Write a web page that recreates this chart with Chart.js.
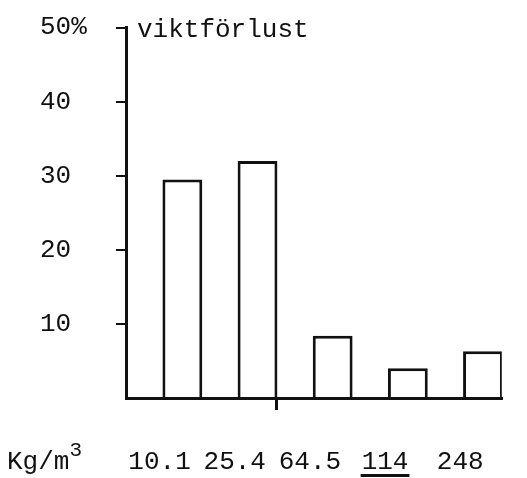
<!DOCTYPE html>
<html>
<head>
<meta charset="utf-8">
<script src="https://cdn.jsdelivr.net/npm/chart.js@4/dist/chart.umd.min.js"></script>
<style>
  html, body { margin: 0; padding: 0; background: #fff; }
  #wrap { width: 527px; height: 478px; }
</style>
</head>
<body>
<div id="wrap"><canvas id="grafico"></canvas></div>
<script>
// densitet (kg/m3) och viktförlust i procent
const densitet = ['10.1', '25.4', '64.5', '114', '248'];
const viktforlust = [29.5, 32, 8.4, 4.0, 6.3];
const yTicks = [0, 10, 20, 30, 40, 50];

const typsnitt = '"Liberation Mono", "DejaVu Sans Mono", monospace';
const svart = '#111';

// texter som ligger utanför axlarna
const extraText = {
    id: 'extraText',
    afterDraw(chart) {
        const ctx = chart.ctx;
        const x = chart.scales.x;
        const y = chart.scales.y;
        ctx.save();
        ctx.fillStyle = svart;
        ctx.font = '26px ' + typsnitt;
        ctx.textBaseline = 'middle';
        ctx.fillText('viktförlust', chart.chartArea.left + 11, y.getPixelForValue(50) + 3);

        // enhet till vänster om x-etiketterna
        const yl = x.bottom - 9;
        ctx.textBaseline = 'alphabetic';
        ctx.fillText('Kg/m', 7, yl);
        const w = ctx.measureText('Kg/m').width;
        ctx.font = '21px ' + typsnitt;
        ctx.fillText('3', 7 + w, yl - 13);

        // understrykning av 114
        ctx.font = '26px ' + typsnitt;
        const i = densitet.indexOf('114');
        const cx = x.getPixelForTick(i) + x.options.ticks.labelOffset;
        const tw = ctx.measureText(densitet[i]).width;
        ctx.fillRect(cx - tw / 2 - 1, yl + 5, tw + 2, 3);
        ctx.restore();
    }
};

document.addEventListener('DOMContentLoaded', function () {
    const ctx = document.getElementById('grafico').getContext('2d');
    new Chart(ctx, {
        type: 'bar',
        data: {
            labels: densitet,
            datasets: [{
                // tom serie som skjuter staplarna åt höger i varje kategori
                data: densitet.map(() => null),
                backgroundColor: 'transparent',
                borderWidth: 0
            }, {
                label: 'viktförlust',
                data: viktforlust,
                backgroundColor: '#fff',
                borderColor: svart,
                borderWidth: 3,
                borderSkipped: 'bottom'
            }]
        },
        options: {
            responsive: true,
            maintainAspectRatio: false,
            animation: false,
            datasets: { bar: { categoryPercentage: 1, barPercentage: 1.06 } },
            layout: { padding: { left: 40, top: 23, right: 24, bottom: 0 } },
            plugins: { legend: { display: false }, tooltip: { enabled: false } },
            scales: {
                x: {
                    afterFit(scale) { scale.height = 80; },
                    border: { display: true, color: svart, width: 3 },
                    grid: {
                        offset: true,
                        drawOnChartArea: false,
                        tickLength: 12,
                        lineWidth: 3,
                        color: c => (c.index === 2 ? svart : 'transparent')
                    },
                    ticks: {
                        color: svart,
                        font: { family: typsnitt, size: 26 },
                        padding: 37,
                        labelOffset: -4
                    }
                },
                y: {
                    min: 0,
                    max: 50,
                    afterFit(scale) { scale.width = 86; },
                    afterBuildTicks(scale) { scale.ticks = yTicks.map(v => ({ value: v })); },
                    border: { display: true, color: svart, width: 3 },
                    grid: {
                        drawOnChartArea: false,
                        tickLength: 10,
                        lineWidth: 2,
                        color: c => (c.tick && c.tick.value === 0 ? 'transparent' : svart)
                    },
                    ticks: {
                        color: svart,
                        crossAlign: 'far',
                        padding: 12,
                        font: { family: typsnitt, size: 26 },
                        callback: v => (v === 0 ? '' : v === 50 ? '50%' : String(v))
                    }
                }
            }
        },
        plugins: [extraText]
    });
});
</script>
</body>
</html>
